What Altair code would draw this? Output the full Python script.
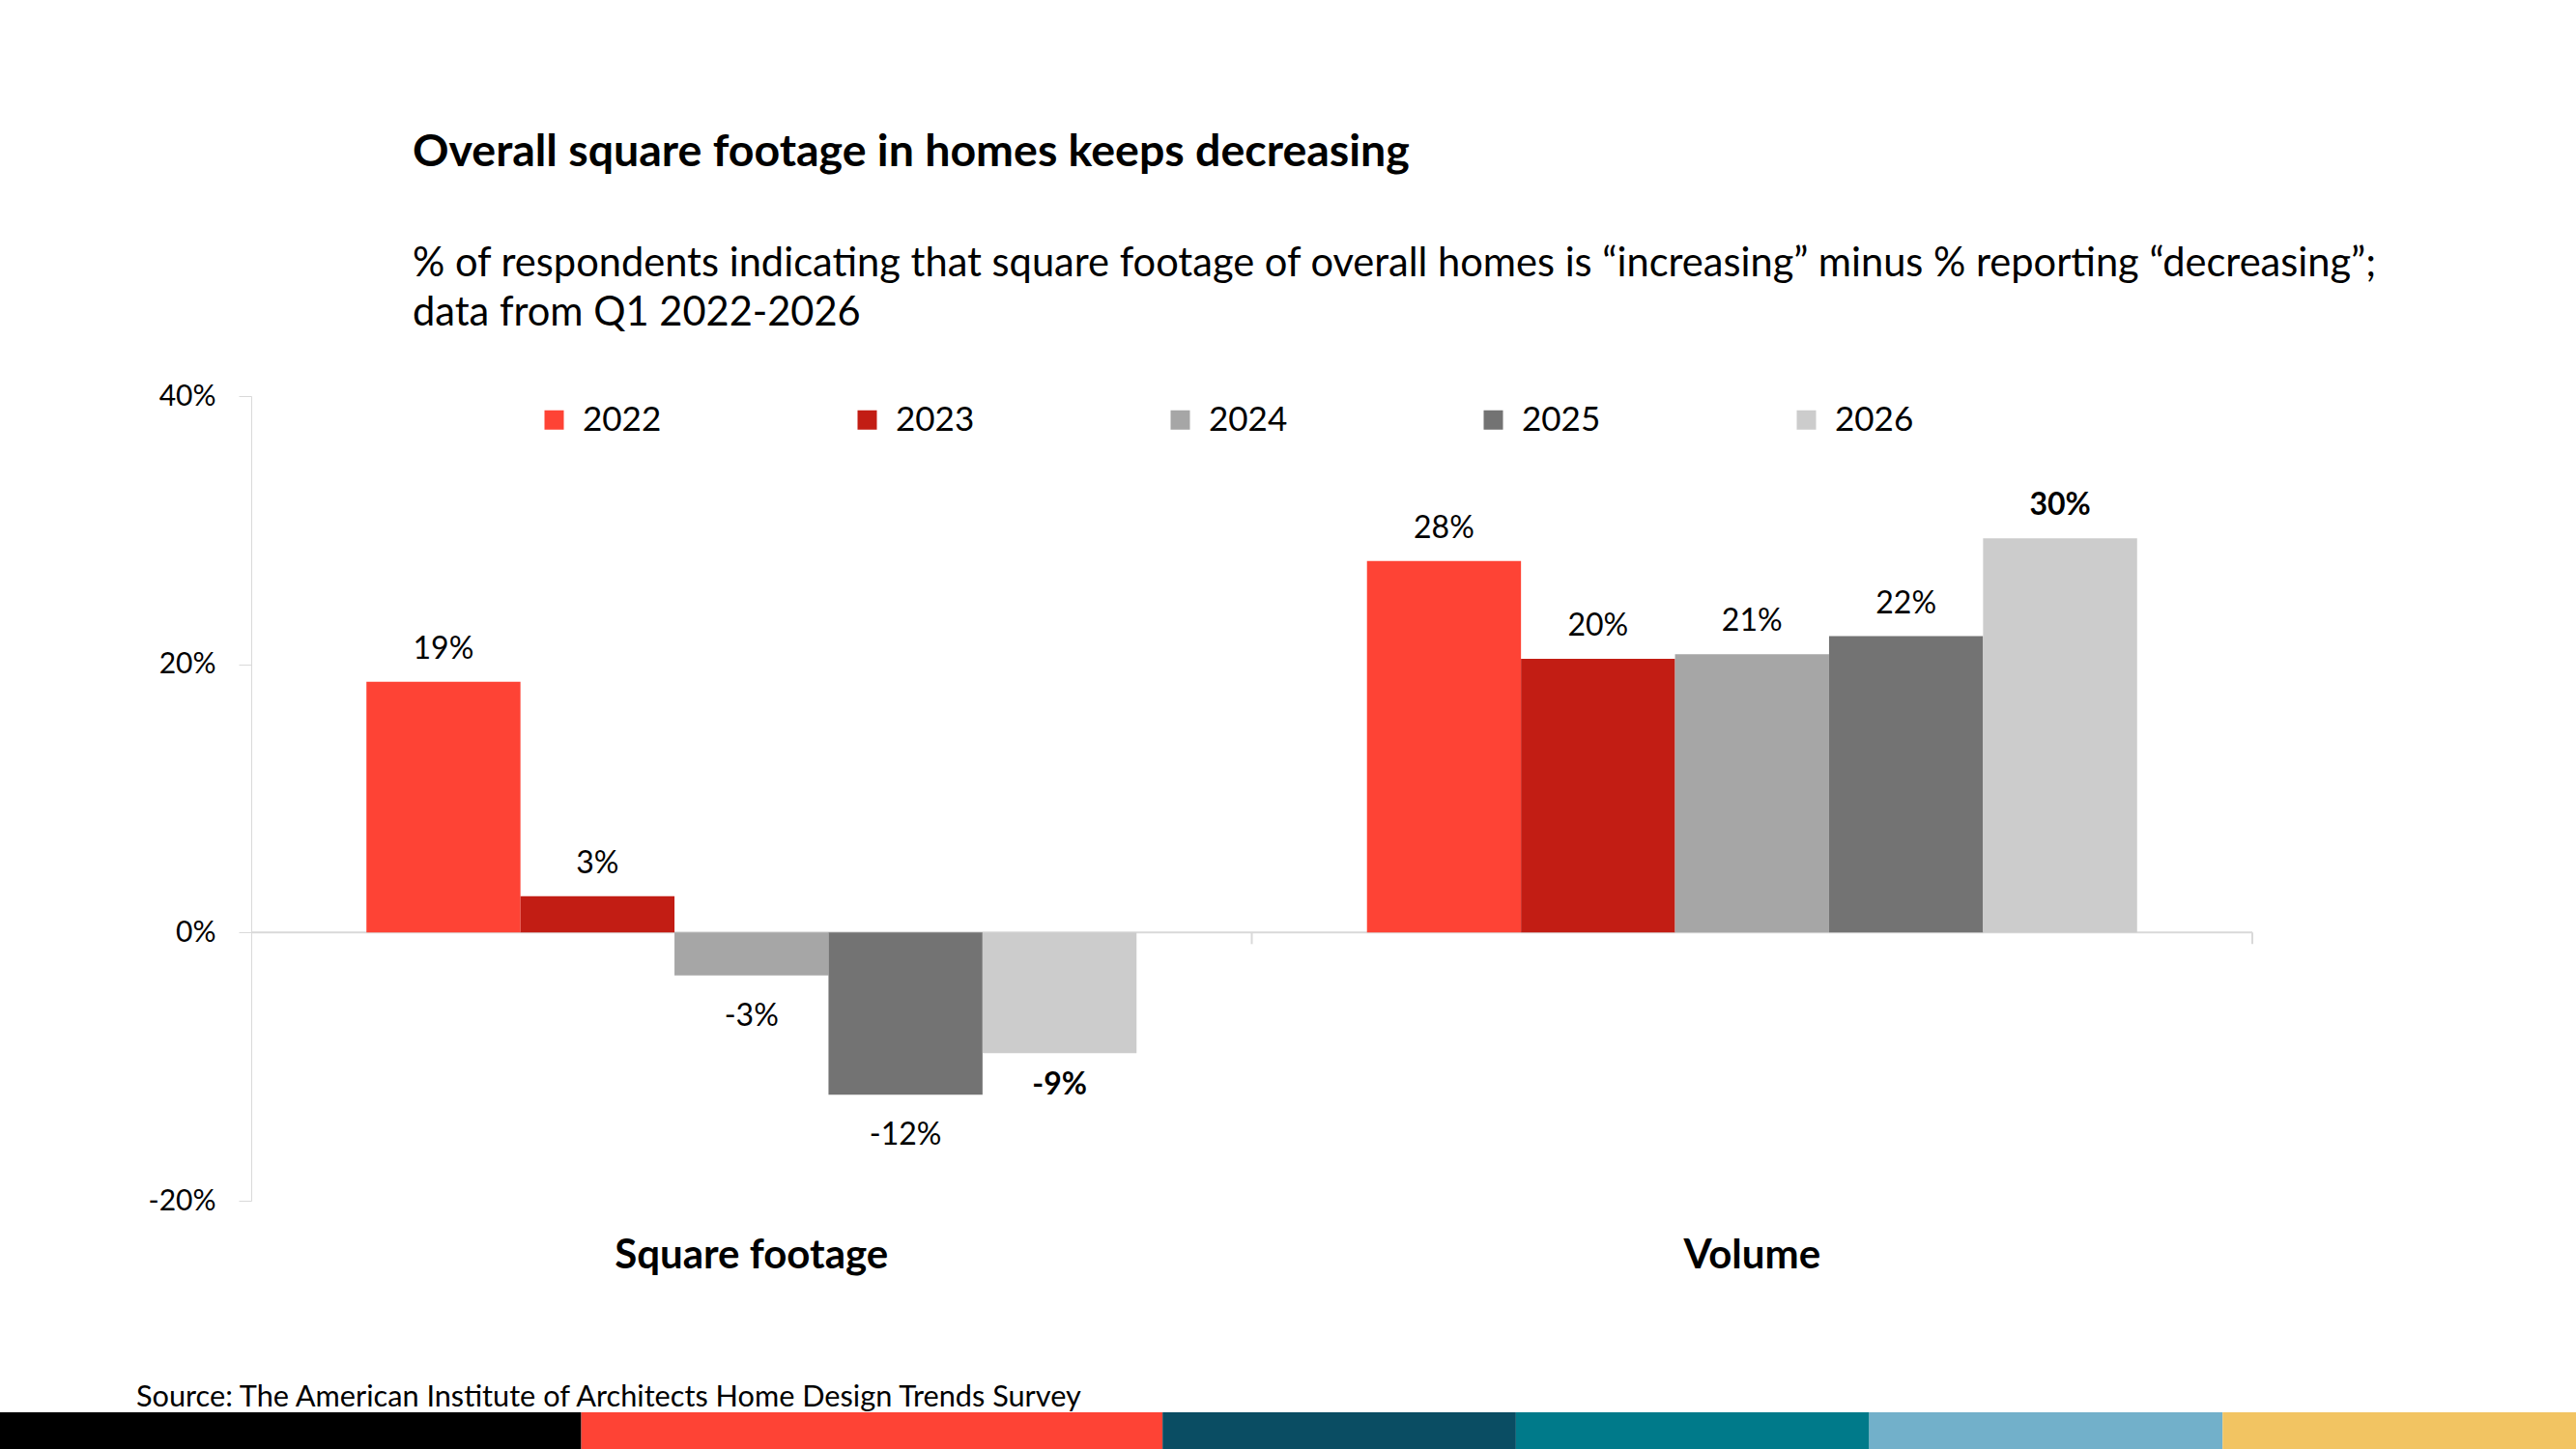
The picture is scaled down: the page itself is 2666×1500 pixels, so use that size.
import altair as alt
import pandas as pd

# ---------------- data ----------------
categories = ["Square footage", "Volume"]
years = ["2022", "2023", "2024", "2025", "2026"]
square_footage = [18.7, 2.7, -3.2, -12.1, -9.0]
volume = [27.7, 20.4, 20.75, 22.1, 29.4]
labels_square_footage = ["19%", "3%", "-3%", "-12%", "-9%"]
labels_volume = ["28%", "20%", "21%", "22%", "30%"]
bold_year = "2026"
year_colors = ["#FE4335", "#C21D14", "#A6A6A6", "#737373", "#CCCCCC"]
y_ticks = [-20, 0, 20, 40]

title_text = "Overall square footage in homes keeps decreasing"
subtitle_text = ("% of respondents indicating that square footage of overall homes is \u201cincreasing\u201d minus % reporting \u201cdecreasing\u201d;\n"
                 "data from Q1 2022-2026")
source_text = "Source: The American Institute of Architects Home Design Trends Survey"

strip_colors = ["#000000", "#FE4335", "#0A4D63", "#007A8A", "#72B0CA", "#F2C462"]
strip_units = [1.645, 1.645, 1.0, 1.0, 1.0, 1.0]

FONT = "Lato"
W, H = 2071, 833
PAD_L, PAD_T, PAD_R, PAD_B = 260, 410, 335, 257

# ---------------- tables ----------------
rows = []
for cat, vals, labs in [(categories[0], square_footage, labels_square_footage),
                        (categories[1], volume, labels_volume)]:
    for y, v, l in zip(years, vals, labs):
        rows.append({"cat": cat, "year": y, "value": v, "label": l})
df = pd.DataFrame(rows)

starts, s = [], 0.0
for u in strip_units:
    starts.append(s)
    s += u
strip_df = pd.DataFrame({"c": strip_colors, "start": starts,
                         "end": [a + b for a, b in zip(starts, strip_units)]})
strip_total = s

x_enc = alt.X("cat:N", sort=categories,
              scale=alt.Scale(domain=categories, paddingInner=0, paddingOuter=0),
              axis=alt.Axis(title=None, labelAngle=0, ticks=False, domain=False,
                            labelFontSize=42, labelFontWeight="bold", labelFont=FONT,
                            labelColor="#000000", labelPadding=36, labelLimit=0,
                            grid=False))
xo_enc = alt.XOffset("year:N", sort=years,
                     scale=alt.Scale(domain=years, paddingInner=0, paddingOuter=0.748))
y_enc = alt.Y("value:Q",
              scale=alt.Scale(domain=[-20, 40], nice=False, zero=False),
              axis=alt.Axis(title=None, values=y_ticks, labelExpr="datum.value + '%'",
                            grid=False, domainColor="#D9D9D9", tickColor="#D9D9D9",
                            tickSize=13, labelPadding=24, labelFontSize=30,
                            labelFont=FONT, labelColor="#000000"))

base = alt.Chart(df)

zero_line = alt.Chart(pd.DataFrame({"z": [0]})).mark_rule(
    color="#D9D9D9", strokeWidth=2).encode(y=alt.Y("z:Q"))

bars = base.mark_bar().encode(
    x=x_enc, xOffset=xo_enc, y=y_enc,
    color=alt.Color("year:N", sort=years,
                    scale=alt.Scale(domain=years, range=year_colors),
                    legend=alt.Legend(title=None, orient="none", direction="horizontal",
                                      legendX=296, legendY=7, symbolType="square",
                                      symbolSize=400, symbolStrokeWidth=0,
                                      labelFontSize=35, labelFont=FONT,
                                      labelColor="#000000", labelOffset=12,
                                      columnPadding=195, padding=0)),
)

def label_layer(cond, dy, weight):
    return base.transform_filter(cond).mark_text(
        dy=dy, fontSize=32, font=FONT, fontWeight=weight, color="#000000",
        baseline="middle").encode(x=x_enc, xOffset=xo_enc, y=y_enc, text="label:N")

lab_pos = label_layer(f"datum.value >= 0 && datum.year != '{bold_year}'", -34, "normal")
lab_pos_b = label_layer(f"datum.value >= 0 && datum.year == '{bold_year}'", -34, "bold")
lab_neg = label_layer(f"datum.value < 0 && datum.year != '{bold_year}'", 42, "normal")
lab_neg_b = label_layer(f"datum.value < 0 && datum.year == '{bold_year}'", 33, "bold")

cat_ticks = alt.Chart(pd.DataFrame({"cat": categories, "z": [0, 0]})).mark_rule(
    color="#D9D9D9", strokeWidth=2, y2Offset=12).encode(
    x=alt.X("cat:N", sort=categories, bandPosition=1,
            scale=alt.Scale(domain=categories, paddingInner=0, paddingOuter=0)),
    y=alt.Y("z:Q"), y2="z:Q")

main = alt.layer(zero_line, bars, lab_pos, lab_pos_b, lab_neg, lab_neg_b, cat_ticks)

strip = alt.Chart(strip_df).mark_rect().encode(
    x=alt.X("start:Q", scale=alt.Scale(domain=[0, strip_total], range=[-PAD_L, W + PAD_R]),
            axis=None),
    x2="end:Q",
    y=alt.value(H + PAD_B - 38), y2=alt.value(H + PAD_B),
    color=alt.Color("c:N", scale=None),
)

title_layer = alt.Chart(pd.DataFrame({"t": [title_text]})).mark_text(
    align="left", baseline="middle", fontSize=46.5, fontWeight="bold", font=FONT,
    color="#000000").encode(text="t:N", x=alt.value(167), y=alt.value(-252))

subtitle_layer = alt.Chart(pd.DataFrame({"t": [subtitle_text]})).mark_text(
    align="left", baseline="middle", fontSize=41.6, font=FONT, lineBreak="\n",
    lineHeight=51, color="#000000").encode(text="t:N", x=alt.value(167), y=alt.value(-136))

source_layer = alt.Chart(pd.DataFrame({"t": [source_text]})).mark_text(
    align="left", baseline="middle", fontSize=30.7, font=FONT,
    color="#000000").encode(text="t:N", x=alt.value(-119), y=alt.value(1037))

chart = alt.layer(main, strip, title_layer, subtitle_layer, source_layer).resolve_scale(
    x="independent", color="independent"
).properties(
    width=W, height=H,
    autosize=alt.AutoSizeParams(type="none"),
    padding={"left": PAD_L, "top": PAD_T, "right": PAD_R, "bottom": PAD_B},
    background="#FFFFFF",
).configure_view(stroke=None)

chart.save("out.html", embed_options={"renderer": "svg", "actions": False})
